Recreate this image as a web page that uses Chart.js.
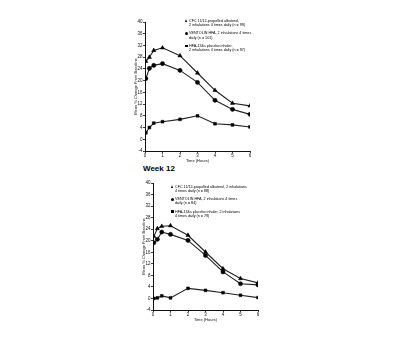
<!DOCTYPE html>
<html>
<head>
<meta charset="utf-8">
<script src="https://cdn.jsdelivr.net/npm/chart.js@4.4.1/dist/chart.umd.min.js"></script>
<style>
  body { margin: 0; background: #fff; width: 400px; height: 337px; position: relative; overflow: hidden; font-family: "Liberation Sans", Arial, sans-serif; }
  canvas { position: absolute; }
  .leg { position: absolute; font-size: 3.7px; line-height: 4.3px; color: #000; white-space: nowrap; }
  .leg div { position: relative; margin-bottom: 4px; }
  .mk { position: absolute; left: -4px; top: 0.6px; background: #000; }
  .tri { width: 0; height: 0; background: none; border-left: 1.7px solid transparent; border-right: 1.7px solid transparent; border-bottom: 3px solid #000; }
  .dot { width: 3.2px; height: 3.2px; border-radius: 50%; }
  .sq { width: 2.6px; height: 2.6px; }
  #week { position: absolute; left: 143px; top: 164px; font: bold 8px "Liberation Sans", Arial, sans-serif; color: #000; }
</style>
</head>
<body>
<canvas id="c1" width="126" height="150" style="left:130px;top:14px"></canvas>
<canvas id="c2" width="126" height="148" style="left:138px;top:175px"></canvas>
<div id="week">Week 12</div>
<div class="leg" style="left:189px;top:18.8px">
  <div><span class="mk tri"></span>CFC 11/12-propelled albuterol,<br>2 inhalations 4 times daily (n = 99)</div>
  <div><span class="mk dot"></span>VENTOLIN HFA, 2 inhalations 4 times<br>daily (n = 101)</div>
  <div><span class="mk sq"></span>HFA-134a placebo inhaler,<br>2 inhalations 4 times daily (n = 97)</div>
</div>
<div class="leg" style="left:175px;top:184.5px">
  <div><span class="mk tri"></span>CFC 11/12-propelled albuterol, 2 inhalations<br>4 times daily (n = 88)</div>
  <div><span class="mk dot"></span>VENTOLIN HFA, 2 inhalations 4 times<br>daily (n = 84)</div>
  <div><span class="mk sq"></span>HFA-134a placebo inhaler, 2 inhalations<br>4 times daily (n = 79)</div>
</div>
<script>
// hours after dose
const hours = [0.05, 0.25, 0.5, 1, 2, 3, 4, 5, 6];

// first study period
const cfcDay1 = [26.6, 28.0, 30.3, 31.2, 28.5, 22.6, 16.7, 12.3, 11.4];
const hfaDay1 = [20.7, 24.2, 25.2, 25.8, 23.5, 19.4, 13.3, 10.2, 8.5];
const placeboDay1 = [2.2, 4.0, 5.5, 6.0, 6.8, 8.0, 5.3, 4.9, 4.2];

// week 12
const cfcWeek12 = [21.5, 24.2, 25.0, 25.2, 21.9, 16.1, 10.3, 6.9, 5.4];
const hfaWeek12 = [19.3, 20.5, 23.0, 22.2, 20.1, 14.9, 9.2, 5.1, 4.7];
const placeboWeek12 = [0.0, 0.2, 0.9, 0.2, 3.5, 2.8, 2.0, 1.1, 0.3];

// y axis: -4 to 40 by 4
const yMin = -4, yMax = 40, yStep = 4;

function pts(vals) {
  return vals.map((v, i) => ({ x: hours[i], y: v }));
}

function ds(vals, style, r) {
  return {
    data: pts(vals),
    borderColor: '#222',
    borderWidth: 1.1,
    pointStyle: style,
    pointRadius: r,
    pointBackgroundColor: '#000',
    pointBorderColor: '#000',
    pointBorderWidth: 0.5,
    tension: 0
  };
}

function makeChart(id, cfc, hfa, plc) {
  const tickFont = { family: 'Liberation Sans', size: 4.5 };
  new Chart(id, {
    type: 'line',
    data: {
      datasets: [ds(cfc, 'triangle', 2.4), ds(hfa, 'circle', 2.1), ds(plc, 'rect', 2.0)]
    },
    options: {
      responsive: false,
      animation: false,
      layout: { padding: { left: 3, right: 6, top: 8, bottom: 0 } },
      plugins: { legend: { display: false }, tooltip: { enabled: false } },
      scales: {
        x: {
          type: 'linear', min: 0, max: 6,
          ticks: { stepSize: 1, color: '#111', font: tickFont, padding: 0.5, maxRotation: 0, autoSkip: false },
          grid: { display: true, drawOnChartArea: false, tickLength: 2, color: '#111', lineWidth: 0.8 },
          border: { color: '#111', width: 1 },
          title: { display: true, text: 'Time (Hours)', color: '#111', font: { family: 'Liberation Sans', size: 4 }, padding: 0.5 },
          afterFit: s => { s.height = 13; }
        },
        y: {
          min: yMin, max: yMax,
          ticks: { stepSize: yStep, autoSkip: false, color: '#111', font: tickFont, padding: 0.5 },
          grid: { display: true, drawOnChartArea: false, tickLength: 2, color: '#111', lineWidth: 0.8 },
          border: { color: '#111', width: 1 },
          title: { display: true, text: 'Mean % Change From Baseline', color: '#111', font: { family: 'Liberation Sans', size: 4 }, padding: 0 },
          afterFit: s => { s.width = 12; }
        }
      }
    }
  });
}

makeChart('c1', cfcDay1, hfaDay1, placeboDay1);
makeChart('c2', cfcWeek12, hfaWeek12, placeboWeek12);
</script>
</body>
</html>
